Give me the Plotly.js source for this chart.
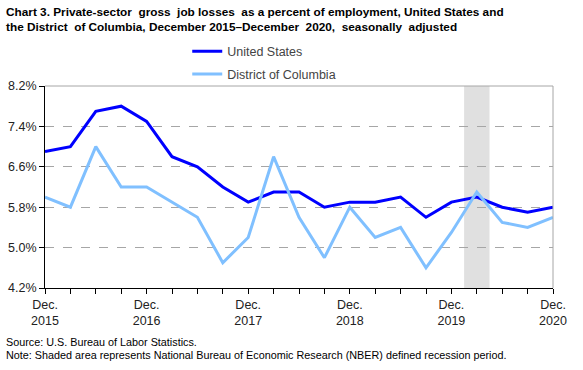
<!DOCTYPE html>
<html><head><meta charset="utf-8">
<script src="https://cdn.plot.ly/plotly-3.0.1.min.js"></script>
<style>html,body{margin:0;padding:0;background:#fff}#chart{width:583px;height:370px}</style>
</head><body><div id="chart"></div>
<script>
const quarters = ["Dec 2015","Mar 2016","Jun 2016","Sep 2016","Dec 2016","Mar 2017","Jun 2017","Sep 2017","Dec 2017","Mar 2018","Jun 2018","Sep 2018","Dec 2018","Mar 2019","Jun 2019","Sep 2019","Dec 2019","Mar 2020","Jun 2020","Sep 2020","Dec 2020"];
const usValues = [6.9,7.0,7.7,7.8,7.5,6.8,6.6,6.2,5.9,6.1,6.1,5.8,5.9,5.9,6.0,5.6,5.9,6.0,5.8,5.7,5.8];
const dcValues = [6.0,5.8,7.0,6.2,6.2,5.9,5.6,4.7,5.2,6.8,5.6,4.8,5.8,5.2,5.4,4.6,5.3,6.1,5.5,5.4,5.6];
const xTickLabels = ["Dec.<br>2015","","","","Dec.<br>2016","","","","Dec.<br>2017","","","","Dec.<br>2018","","","","Dec.<br>2019","","","","Dec.<br>2020"];
const yTicks = [4.2,5.0,5.8,6.6,7.4,8.2];
const recession = [16.5,17.5];

const idx = quarters.map((q,i)=>i);
const font = "Liberation Sans, Arial, sans-serif";
const traces = [
  {x: idx, y: usValues, name: "United States", type: "scatter", mode: "lines",
   line: {color: "#0000ff", width: 3}, legend: "legend", hovertext: quarters},
  {x: idx, y: dcValues, name: "District of Columbia", type: "scatter", mode: "lines",
   line: {color: "#80c0ff", width: 3}, legend: "legend2", hovertext: quarters}
];
const layout = {
  width: 583, height: 370,
  margin: {l: 45, r: 30, t: 86, b: 82},
  paper_bgcolor: "#fff", plot_bgcolor: "#fff",
  font: {family: font, size: 12, color: "#000"},
  xaxis: {range: [0, 20], tickmode: "array", tickvals: idx, ticktext: xTickLabels,
    ticks: "outside", ticklen: 5, tickcolor: "#000", showline: true, linecolor: "#000", linewidth: 1,
    showgrid: false, zeroline: false, tickangle: 0, tickfont: {size: 12.5, color: "#222"}, fixedrange: true},
  yaxis: {range: [4.2, 8.2], tickmode: "array", tickvals: yTicks, ticktext: yTicks.map(v=>v.toFixed(1)+"%"),
    ticks: "outside", ticklen: 5, tickcolor: "#000", showline: true, linecolor: "#000", linewidth: 1,
    showgrid: true, gridcolor: "#a6a6a6", griddash: "dash", gridwidth: 1, zeroline: false,
    tickfont: {size: 12.5, color: "#222"}, fixedrange: true},
  showlegend: true,
  legend: {x: 0.28, xanchor: "left", y: 1.17, yanchor: "middle", bgcolor: "rgba(0,0,0,0)",
    font: {family: font, size: 12.5, color: "#444"}},
  legend2: {x: 0.28, xanchor: "left", y: 1.058, yanchor: "middle", bgcolor: "rgba(0,0,0,0)",
    font: {family: font, size: 12.5, color: "#444"}},
  shapes: [
    {type: "rect", xref: "x", yref: "paper", x0: recession[0], x1: recession[1], y0: 0, y1: 1,
     fillcolor: "#e0e0e0", line: {width: 0}, layer: "below"},
    {type: "line", xref: "paper", yref: "paper", x0: 0, x1: 1, y0: 1, y1: 1, line: {color: "#a6a6a6", width: 1}},
    {type: "line", xref: "paper", yref: "paper", x0: 1, x1: 1, y0: 0, y1: 1, line: {color: "#a6a6a6", width: 1}}
  ],
  annotations: [
    {text: "<b>Chart 3. Private-sector  gross  job losses  as a percent of employment, United States and<br>the District  of Columbia, December 2015–December  2020,  seasonally  adjusted</b>",
     xref: "paper", yref: "paper", x: -0.081, y: 1.41, xanchor: "left", yanchor: "top", align: "left",
     showarrow: false, font: {family: font, size: 11.8, color: "#000"}},
    {text: "Source: U.S. Bureau of Labor Statistics.", xref: "paper", yref: "paper", x: -0.08, y: -0.265,
     xanchor: "left", yanchor: "middle", showarrow: false,
     font: {family: "Liberation Sans Narrow, Arial Narrow, sans-serif", size: 10.8, color: "#000"}},
    {text: "Note: Shaded area represents National Bureau of Economic Research (NBER) defined recession period.", xref: "paper", yref: "paper", x: -0.08, y: -0.33,
     xanchor: "left", yanchor: "middle", showarrow: false,
     font: {family: "Liberation Sans Narrow, Arial Narrow, sans-serif", size: 10.8, color: "#000"}}
  ]
};
Plotly.newPlot("chart", traces, layout, {displayModeBar: false, staticPlot: true});
</script></body></html>
